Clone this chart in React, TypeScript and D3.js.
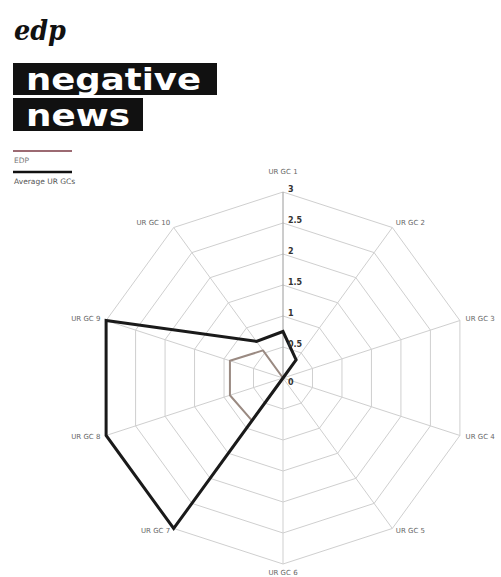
import React from "react";
import * as d3 from "d3";

const axes = ["UR GC 1", "UR GC 2", "UR GC 3", "UR GC 4", "UR GC 5", "UR GC 6", "UR GC 7", "UR GC 8", "UR GC 9", "UR GC 10"];
const edpValues = [0, 0, 0, 0, 0, 0, 0.85, 0.9, 0.9, 0.55];
const averageValues = [0.75, 0.36, 0, 0, 0, 0, 3, 3, 3, 0.73];
const tickValues = [0, 0.5, 1, 1.5, 2, 2.5, 3];
const tickLabels = ["0", "0.5", "1", "1.5", "2", "2.5", "3"];
const seriesNames = ["EDP", "Average UR GCs"];

const W = 501, H = 577;
const cx = 283, cy = 378, R = 186;

export default function App() {
  const r = d3.scaleLinear().domain([0, 3]).range([0, R]);
  const ang = d3.scaleLinear().domain([0, axes.length]).range([0, 2 * Math.PI]);
  const pt = (i: number, v: number): [number, number] => {
    const a = ang(i);
    return [cx + r(v) * Math.sin(a), cy - r(v) * Math.cos(a)];
  };
  const line = d3.line<[number, number]>().curve(d3.curveLinearClosed);
  const ringPath = (v: number) => line(axes.map((_, i) => pt(i, v))) as string;
  const seriesPath = (vals: number[]) => line(vals.map((v, i) => pt(i, v))) as string;

  const labelFont = "'DejaVu Sans', sans-serif";

  return (
    <div style={{ position: "absolute", left: 0, top: 0 }}>
      <svg width={W} height={H} style={{ display: "block", background: "#fff" }}>
        {/* logo */}
        <text x={14} y={40} fontFamily="'DejaVu Serif', serif" fontStyle="italic" fontWeight="bold" fontSize={28} fill="#111" textLength={52} lengthAdjust="spacingAndGlyphs">edp</text>
        {/* title boxes */}
        <rect x={13} y={63} width={204} height={32} fill="#111" />
        <text x={26} y={90} fontFamily={labelFont} fontWeight="bold" fontSize={31} fill="#fff" textLength={175} lengthAdjust="spacingAndGlyphs">negative</text>
        <rect x={13} y={98} width={130} height={33} fill="#111" />
        <text x={26} y={126} fontFamily={labelFont} fontWeight="bold" fontSize={31} fill="#fff" textLength={104} lengthAdjust="spacingAndGlyphs">news</text>
        {/* legend */}
        <line x1={13} x2={72} y1={151} y2={151} stroke="#9c6a72" strokeWidth={2} />
        <text x={14} y={163} fontFamily={labelFont} fontSize={7.5} fill="#777">{seriesNames[0]}</text>
        <line x1={13} x2={72} y1={172} y2={172} stroke="#111" strokeWidth={2.5} />
        <text x={14} y={184} fontFamily={labelFont} fontSize={7.5} fill="#555">{seriesNames[1]}</text>

        {/* grid rings */}
        {tickValues.slice(1).map((v) => (
          <path key={v} d={ringPath(v)} fill="none" stroke="#cfcfcf" strokeWidth={1} />
        ))}
        {/* spokes */}
        {axes.map((a, i) => {
          const [x, y] = pt(i, 3);
          return <line key={a} x1={cx} y1={cy} x2={x} y2={y} stroke={i === 0 ? "#9a9a9a" : "#cfcfcf"} strokeWidth={1} />;
        })}

        {/* series */}
        <path d={seriesPath(edpValues)} fill="none" stroke="#9a8a82" strokeWidth={2} strokeLinejoin="round" />
        <path d={seriesPath(averageValues)} fill="none" stroke="#1a1a1a" strokeWidth={3} strokeLinejoin="miter" />

        {/* tick labels */}
        {tickValues.map((v, i) => (
          <text key={v} x={cx + 5} y={cy - r(v) + (i === 0 ? 7 : 0)} fontFamily={labelFont} fontWeight="bold" fontSize={8} fill="#333">{tickLabels[i]}</text>
        ))}

        {/* axis labels */}
        {axes.map((a, i) => {
          const angle = ang(i);
          const s = Math.sin(angle), c = Math.cos(angle);
          const [x, y] = pt(i, 3);
          let anchor = "middle";
          if (s > 0.1) anchor = "start";
          else if (s < -0.1) anchor = "end";
          const lx = x + s * 6;
          let ly = y - c * 6 + 2;
          if (i === 0) ly = y - 18;
          if (i === 5) ly = y + 11;
          if (i === 1 || i === 9) ly = y - 3;
          if (i === 4 || i === 6) ly = y + 5;
          return (
            <text key={a} x={lx} y={ly} textAnchor={anchor} fontFamily={labelFont} fontSize={7} fill="#666">{a}</text>
          );
        })}
      </svg>
    </div>
  );
}
